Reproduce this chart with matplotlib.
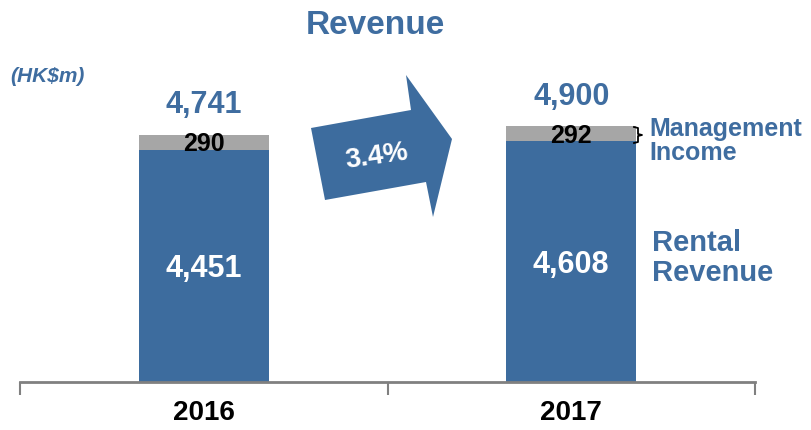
import matplotlib.pyplot as plt
from matplotlib.patches import Polygon
from matplotlib.lines import Line2D

plt.rcParams['font.family'] = ['Liberation Sans', 'DejaVu Sans']

# データ
years = ["2016", "2017"]
rental = [4451, 4608]
management = [290, 292]
totals = [4741, 4900]
growth_label = "3.4%"

blue = "#3D6C9E"
gray = "#A6A6A6"
txt_blue = "#3F6DA0"

W, H = 811, 430
fig = plt.figure(figsize=(W / 100, H / 100), dpi=100)
ax = fig.add_axes([20 / W, 48 / H, 735 / W, 382 / H])

x = [0.5, 1.5]
bw = 0.354
ax.bar(x, rental, width=bw, color=blue, zorder=2)
ax.bar(x, management, width=bw, bottom=rental, color=gray, zorder=2)

for xi, r, m, t in zip(x, rental, management, totals):
    ax.text(xi, r / 2 - 60, f"{r:,}", ha='center', va='center', color='white',
            fontsize=22, fontweight='bold')
    ax.text(xi, r + m / 2 - 40, f"{m:,}", ha='center', va='center', color='black',
            fontsize=18, fontweight='bold')
    ax.text(xi, t + 560, f"{t:,}", ha='center', va='center', color=txt_blue,
            fontsize=22, fontweight='bold')

ax.set_xlim(0, 2)
ax.set_ylim(0, 7318)
for s in ['top', 'right', 'left']:
    ax.spines[s].set_visible(False)
ax.spines['bottom'].set_color('#808080')
ax.spines['bottom'].set_linewidth(2)
ax.set_yticks([])
ax.set_xticks([0, 1, 2])
ax.set_xticklabels([])
ax.tick_params(axis='x', direction='out', length=9, width=1.5, color='#808080')
for xi, y in zip(x, years):
    ax.text(xi, -590, y, ha='center', va='center', fontsize=20, fontweight='bold',
            clip_on=False)

# 矢印 (ピクセル座標)
def px(p):
    return (p[0] / W, 1 - p[1] / H)

arrow_pts = [(311, 128), (325, 200), (426, 182), (433, 217), (452, 139),
             (406, 75), (411, 110)]
fig.patches.append(Polygon([px(p) for p in arrow_pts], closed=True,
                           transform=fig.transFigure, facecolor=blue, edgecolor='none'))
fig.text(*px((377, 157)), growth_label, ha='center', va='center', color='white',
         fontsize=20, fontweight='bold', rotation=8)

# タイトル等
fig.text(*px((375, 25)), "Revenue", ha='center', va='center', color=txt_blue,
         fontsize=24, fontweight='bold')
fig.text(*px((10, 76)), "(HK$m)", ha='left', va='center', color=txt_blue,
         fontsize=15, fontweight='bold', style='italic')

# 括弧
bx = [634, 638, 638, 642, 638, 638, 634]
by = [127, 128, 134, 135, 136, 142, 143]
fig.lines.append(Line2D([b / W for b in bx], [1 - b / H for b in by],
                        transform=fig.transFigure, color='black', lw=1.3))

fig.text(*px((649, 141)), "Management\nIncome", ha='left', va='center', color=txt_blue,
         fontsize=18, fontweight='bold', linespacing=0.95)
fig.text(*px((652, 258)), "Rental\nRevenue", ha='left', va='center', color=txt_blue,
         fontsize=21, fontweight='bold', linespacing=1.05)

fig.savefig("out.png", dpi=100)
